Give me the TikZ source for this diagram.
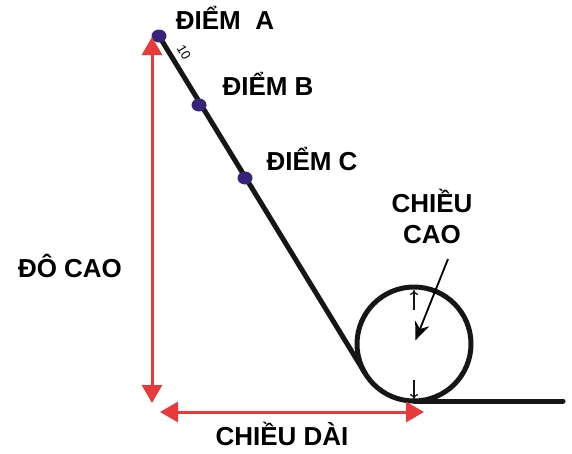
\documentclass[tikz,border=0pt]{standalone}
\usepackage{fontspec}
\setmainfont{Liberation Sans}
\usetikzlibrary{arrows.meta, positioning, calc, shapes.geometric}
\definecolor{loopRed}{RGB}{232,58,58}
\definecolor{loopIndigo}{RGB}{55,36,122}
\definecolor{loopInk}{RGB}{22,22,22}

\begin{document}
\begin{tikzpicture}[x=1pt, y=-1pt,
    caption/.style={font=\fontsize{26}{31}\selectfont\bfseries, inner sep=0pt, anchor=base, align=center},
    track/.style={line width=5pt, draw=loopInk, line cap=round},
    measure/.style={{Triangle[length=18pt,width=20pt]}-{Triangle[length=18pt,width=20pt]}, line width=3pt, draw=loopRed},
    dot/.style={ellipse, fill=loopIndigo, minimum width=15pt, minimum height=13pt, inner sep=0pt},
    tick/.style={-{To[length=5pt,width=8pt]}, line width=1.2pt, draw=loopInk},
    pointer/.style={-{Stealth[length=18pt,width=15pt]}, line width=1.8pt}
  ]
  \useasboundingbox (0,0) rectangle (572,453);

  % loop and slope
  \coordinate (hub) at (414,344);
  \coordinate (tangent) at (365.2,373.4);
  \coordinate (base) at (414,401);
  \coordinate (runout) at (563,401);
  \draw[track] (hub) circle[radius=57pt];
  \draw[track] (159,36) -- (tangent);
  \draw[track] (base) -- (runout);

  \node[dot] (ptA) at (159,36) {};
  \node[dot] (ptB) at (199,105) {};
  \node[dot] (ptC) at (245,178) {};
  \node[font=\fontsize{13}{14}\selectfont, rotate=-59, inner sep=0pt] (ten) at (184,52) {10};

  \node[caption] (labelA) at (225,29) {ĐIỂM\ \ A};
  \node[caption] (labelB) at (268,95) {ĐIỂM B};
  \node[caption] (labelC) at (312,170) {ĐIỂM C};
  \node[caption] (height) at (432,243) {CHIỀU\\CAO};
  \node[caption] (drop) at (70,277) {ĐÔ CAO};
  \node[caption] (span) at (282,445) {CHIỀU DÀI};

  % red measures
  \coordinate (topV) at (152,37);
  \coordinate (botV) at (152,403);
  \coordinate (leftH) at (160,412);
  \coordinate (rightH) at (424,412);
  \draw[measure] (botV) -- (topV);
  \draw[measure] (leftH) -- (rightH);

  % radius marks
  \coordinate (upFrom) at (414,310);
  \coordinate (upTo) at (414,290);
  \coordinate (downFrom) at (414,380);
  \coordinate (downTo) at (414,399);
  \draw[tick] (upFrom) -- (upTo);
  \draw[tick] (downFrom) -- (downTo);

  \coordinate (cue) at (448,259);
  \draw[pointer, shorten >=4pt] (cue) -- (hub);
\end{tikzpicture}
\end{document}
